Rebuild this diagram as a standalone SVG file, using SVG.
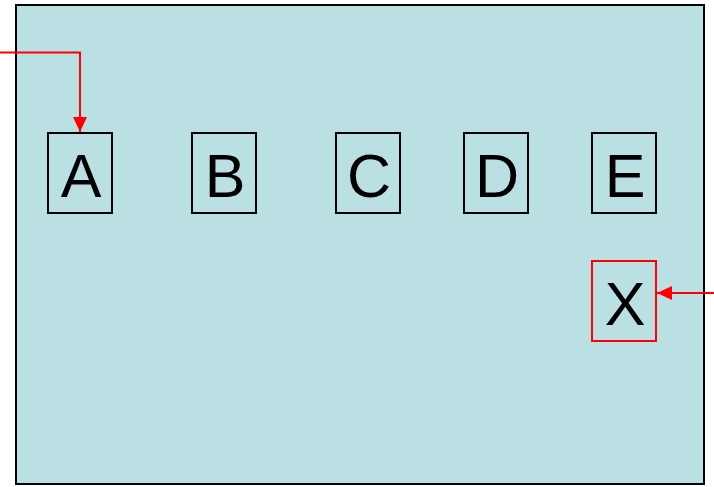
<svg xmlns="http://www.w3.org/2000/svg" width="714" height="487" viewBox="0 0 714 487">
<style>
.node rect{fill:none;stroke:#000;stroke-width:2}
.node.red rect{stroke:#ff0000}
.node text{font-family:"Liberation Sans",Arial,sans-serif;font-size:61px;fill:#000;text-anchor:middle}
.conn{fill:none;stroke:#ff0000;stroke-width:2}
</style>
<defs>
<marker id="ah" markerWidth="15" markerHeight="14" refX="15" refY="7" orient="auto" markerUnits="userSpaceOnUse">
<path d="M0,0 L15,7 L0,14 Z" fill="#ff0000"/>
</marker>
</defs>
<rect x="16" y="5" width="688" height="479" fill="#bae0e3" stroke="#000" stroke-width="2"/>
<g id="A" class="node"><rect x="48" y="133" width="64" height="80"/><text x="81" y="197">A</text></g>
<g id="B" class="node"><rect x="192" y="133" width="64" height="80"/><text x="225" y="197">B</text></g>
<g id="C" class="node"><rect x="336" y="133" width="64" height="80"/><text x="369" y="197">C</text></g>
<g id="D" class="node"><rect x="464" y="133" width="64" height="80"/><text x="497" y="197">D</text></g>
<g id="E" class="node"><rect x="592" y="133" width="64" height="80"/><text x="625" y="197">E</text></g>
<g id="X" class="node red"><rect x="592" y="261" width="64" height="80"/><text x="625" y="325">X</text></g>
<g id="connectors">
<path class="conn" d="M0,52.5 H80 V132" marker-end="url(#ah)"/>
<path class="conn" d="M714,293 H657" marker-end="url(#ah)"/>
</g>
</svg>
